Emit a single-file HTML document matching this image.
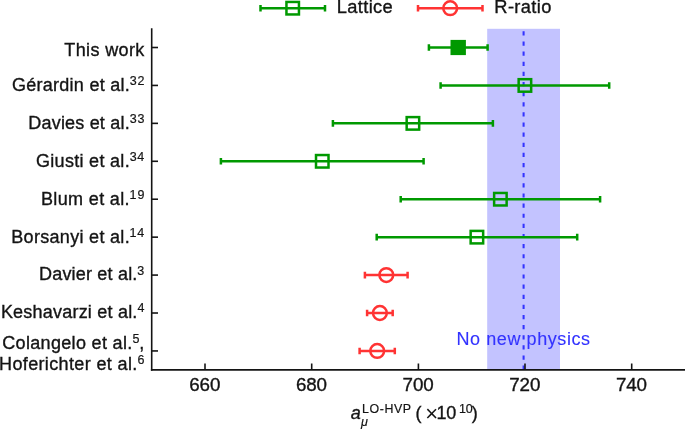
<!DOCTYPE html>
<html><head><meta charset="utf-8"><title>chart</title>
<style>
html,body{margin:0;padding:0;background:#fff;}
svg{display:block;}
text{font-family:"Liberation Sans",sans-serif;fill:#141414;stroke:#141414;stroke-width:0.35px;}
</style></head><body>
<svg width="685" height="429" viewBox="0 0 685 429">
<rect x="0" y="0" width="685" height="429" fill="#fff"/>
<rect x="487.2" y="28.8" width="72.8" height="340.4" fill="#c3c3ff"/>
<line x1="523.6" y1="31.3" x2="523.6" y2="370" stroke="#3333ff" stroke-width="2.05" stroke-dasharray="4.2 5.93"/>
<g stroke="#141414" stroke-width="1.6" fill="none">
<path d="M151.7 28.3V370.8"/><path d="M150.9 369.95H685" stroke-width="1.8"/>
<path d="M151.7 47.50H158"/>
<path d="M151.7 85.43H158"/>
<path d="M151.7 123.36H158"/>
<path d="M151.7 161.29H158"/>
<path d="M151.7 199.22H158"/>
<path d="M151.7 237.15H158"/>
<path d="M151.7 275.08H158"/>
<path d="M151.7 313.01H158"/>
<path d="M151.7 350.94H158"/>
<path d="M205.0 369.9V363.5"/>
<path d="M311.7 369.9V363.5"/>
<path d="M418.4 369.9V363.5"/>
<path d="M525.0 369.9V363.5"/>
<path d="M631.7 369.9V363.5"/>
</g>
<g stroke="#009900" stroke-width="2.5" fill="none"><path d="M428.9 47.50H487.6M428.9 44.20V50.80M487.6 44.20V50.80"/><rect x="450.5" y="39.90" width="15.4" height="15.2" fill="#009900" stroke="none"/></g>
<g stroke="#009900" stroke-width="2.5" fill="none"><path d="M440.6 85.43H609.2M440.6 82.13V88.73M609.2 82.13V88.73"/><rect x="518.66" y="79.18" width="12.5" height="12.5"/></g>
<g stroke="#009900" stroke-width="2.5" fill="none"><path d="M332.9 123.36H492.9M332.9 120.06V126.66M492.9 120.06V126.66"/><rect x="406.67" y="117.11" width="12.5" height="12.5"/></g>
<g stroke="#009900" stroke-width="2.5" fill="none"><path d="M220.9 161.29H423.6M220.9 157.99V164.59M423.6 157.99V164.59"/><rect x="316.01" y="155.04" width="12.5" height="12.5"/></g>
<g stroke="#009900" stroke-width="2.5" fill="none"><path d="M400.7 199.22H600.1M400.7 195.92V202.52M600.1 195.92V202.52"/><rect x="494.13" y="192.97" width="12.5" height="12.5"/></g>
<g stroke="#009900" stroke-width="2.5" fill="none"><path d="M376.7 237.15H577.2M376.7 233.85V240.45M577.2 233.85V240.45"/><rect x="470.66" y="230.90" width="12.5" height="12.5"/></g>
<g stroke="#ff3333" stroke-width="2.5" fill="none"><path d="M364.9 275.08H407.6M364.9 271.78V278.38M407.6 271.78V278.38"/><circle cx="386.3" cy="275.08" r="6.9"/></g>
<g stroke="#ff3333" stroke-width="2.5" fill="none"><path d="M367.1 313.01H392.7M367.1 309.71V316.31M392.7 309.71V316.31"/><circle cx="379.9" cy="313.01" r="6.9"/></g>
<g stroke="#ff3333" stroke-width="2.5" fill="none"><path d="M359.6 350.94H394.8M359.6 347.64V354.24M394.8 347.64V354.24"/><circle cx="377.2" cy="350.94" r="6.9"/></g>
<g stroke="#009900" stroke-width="2.5" fill="none"><path d="M260.5 8.20H325.0M260.5 4.90V11.50M325.0 4.90V11.50"/><rect x="286.45" y="1.95" width="12.5" height="12.5"/></g>
<g stroke="#ff3333" stroke-width="2.5" fill="none"><path d="M418.0 8.20H482.5M418.0 4.90V11.50M482.5 4.90V11.50"/><circle cx="450.2" cy="8.20" r="6.9"/></g>
<text x="64.37" y="55.6" font-size="18" letter-spacing="0.363">This work</text>
<text x="12.10" y="90.7" font-size="18" letter-spacing="0.250">Gérardin et al.</text>
<text x="129.72" y="84.8" font-size="12.5" style="stroke-width:0.2px;" letter-spacing="0.890">32</text>
<text x="28.32" y="128.7" font-size="18" letter-spacing="0.190">Davies et al.</text>
<text x="129.72" y="122.8" font-size="12.5" style="stroke-width:0.2px;" letter-spacing="0.910">33</text>
<text x="36.00" y="166.6" font-size="18" letter-spacing="0.300">Giusti et al.</text>
<text x="129.72" y="160.7" font-size="12.5" style="stroke-width:0.2px;" letter-spacing="0.631">34</text>
<text x="40.92" y="204.5" font-size="18" letter-spacing="0.368">Blum et al.</text>
<text x="129.49" y="198.6" font-size="12.5" style="stroke-width:0.2px;" letter-spacing="1.165">19</text>
<text x="11.32" y="242.5" font-size="18" letter-spacing="0.306">Borsanyi et al.</text>
<text x="129.49" y="236.6" font-size="12.5" style="stroke-width:0.2px;" letter-spacing="0.859">14</text>
<text x="39.02" y="280.4" font-size="18" letter-spacing="0.190">Davier et al.</text>
<text x="137.32" y="274.5" font-size="12.5" style="stroke-width:0.2px;">3</text>
<text x="0.92" y="318.3" font-size="18" letter-spacing="0.211">Keshavarzi et al.</text>
<text x="137.38" y="312.4" font-size="12.5" style="stroke-width:0.2px;">4</text>
<text x="2.27" y="348.5" font-size="18" letter-spacing="0.328">Colangelo et al.</text>
<text x="132.44" y="342.5" font-size="12.5" style="stroke-width:0.2px;">5</text>
<text x="139.23" y="348.5" font-size="18">,</text>
<text x="-0.98" y="370.2" font-size="18" letter-spacing="0.363">Hoferichter et al.</text>
<text x="137.45" y="364.0" font-size="12.5" style="stroke-width:0.2px;">6</text>
<text x="336.71" y="13.1" font-size="18.3" letter-spacing="0.359">Lattice</text>
<text x="494.31" y="13.0" font-size="18.3" letter-spacing="0.377">R-ratio</text>
<text x="189.23" y="391.4" font-size="18.8" letter-spacing="-0.094">660</text>
<text x="295.89" y="391.4" font-size="18.8" letter-spacing="-0.094">680</text>
<text x="402.58" y="391.4" font-size="18.8" letter-spacing="-0.108">700</text>
<text x="509.24" y="391.4" font-size="18.8" letter-spacing="-0.108">720</text>
<text x="615.90" y="391.4" font-size="18.8" letter-spacing="-0.108">740</text>
<text x="456.47" y="344.5" font-size="18" style="fill:#3333ff;stroke:#3333ff;stroke-width:0.12px;" letter-spacing="0.583">No new physics</text>
<text x="350.78" y="419.0" font-size="18" font-style="italic">a</text>
<text x="361.99" y="412.9" font-size="12.4" style="stroke-width:0.2px;" letter-spacing="0.600">LO-HVP</text>
<text x="361.02" y="426.0" font-size="12.5" font-style="italic" style="stroke-width:0.2px;">μ</text>
<text x="415.38" y="419.0" font-size="18">(</text>
<text x="425.21" y="420.6" font-size="22" style="stroke-width:0px;">×</text>
<text x="436.52" y="419.0" font-size="18" letter-spacing="-0.200">10</text>
<text x="459.02" y="413.2" font-size="12.5" style="stroke-width:0.2px;" letter-spacing="-0.200">10</text>
<text x="471.67" y="419.0" font-size="18">)</text>
</svg></body></html>
